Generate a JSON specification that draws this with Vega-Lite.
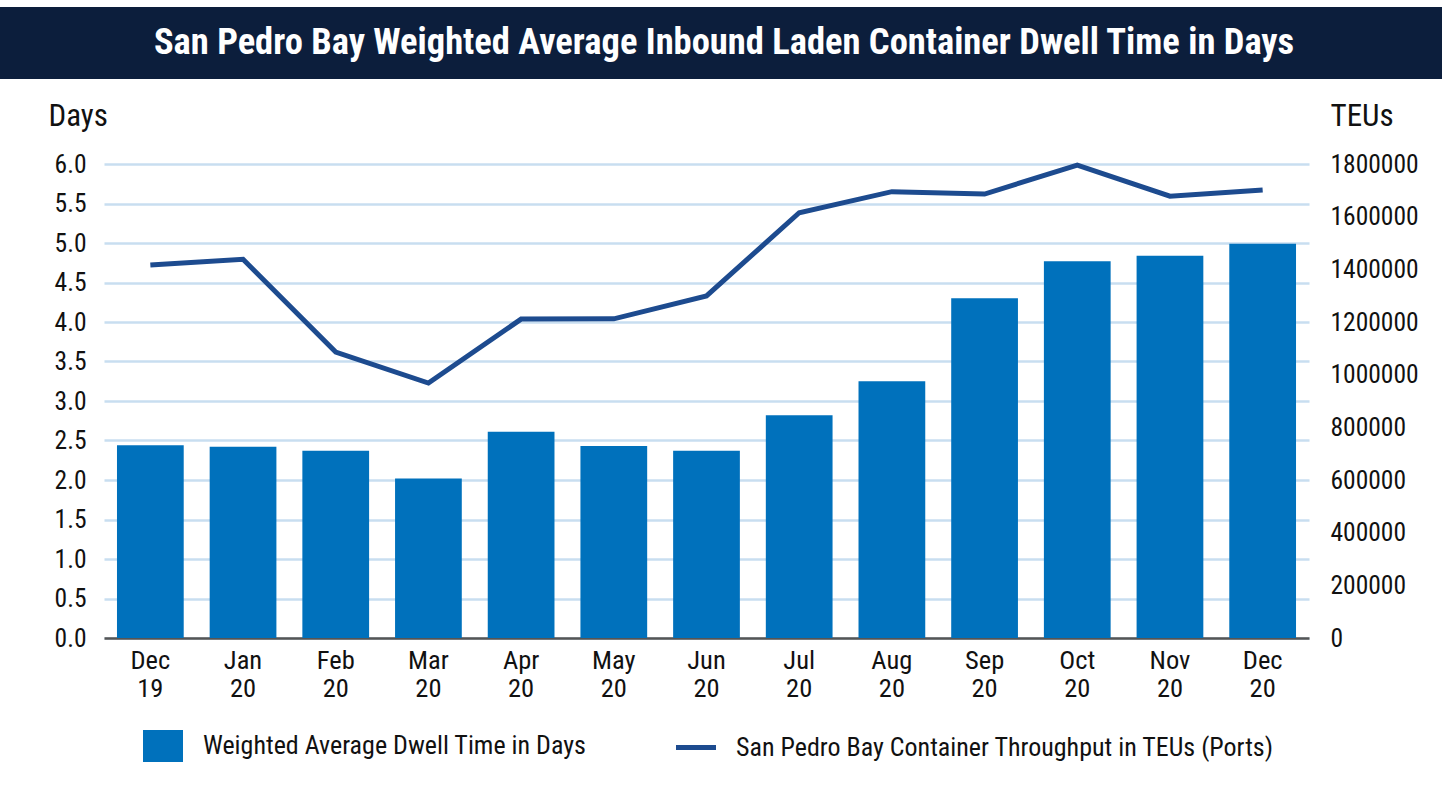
{
  "$schema": "https://vega.github.io/schema/vega-lite/v6.json",
  "background": "white",
  "padding": {"left": -29, "top": 7, "right": 0, "bottom": 0},
  "autosize": {"type": "pad"},
  "config": {
    "view": {"stroke": null},
    "font": "Roboto Condensed, Liberation Sans Narrow, Roboto",
    "axis": {"labelColor": "#111111", "titleColor": "#111111"},
    "legend": {"labelColor": "#111111"}
  },
  "datasets": {
    "banner": [{"t": "San Pedro Bay Weighted Average Inbound Laden Container Dwell Time in Days"}],
    "ports": [
      {"month": "Dec 19", "days": 2.44, "teus": 1416000},
      {"month": "Jan 20", "days": 2.42, "teus": 1438000},
      {"month": "Feb 20", "days": 2.37, "teus": 1086000},
      {"month": "Mar 20", "days": 2.02, "teus": 968000},
      {"month": "Apr 20", "days": 2.61, "teus": 1211000},
      {"month": "May 20", "days": 2.43, "teus": 1212000},
      {"month": "Jun 20", "days": 2.37, "teus": 1299000},
      {"month": "Jul 20", "days": 2.82, "teus": 1615000},
      {"month": "Aug 20", "days": 3.25, "teus": 1695000},
      {"month": "Sep 20", "days": 4.30, "teus": 1686000},
      {"month": "Oct 20", "days": 4.77, "teus": 1796000},
      {"month": "Nov 20", "days": 4.84, "teus": 1678000},
      {"month": "Dec 20", "days": 4.99, "teus": 1701000}
    ]
  },
  "spacing": 85,
  "center": true,
  "bounds": "flush",
  "vconcat": [
    {
      "width": 1471,
      "height": 72,
      "view": {"fill": "#0c1e3c", "stroke": null},
      "data": {"name": "banner"},
      "mark": {"type": "text", "color": "white", "fontSize": 36.5, "fontWeight": "bold", "baseline": "middle", "align": "center", "dx": 17.5},
      "encoding": {"text": {"field": "t"}}
    },
    {
      "width": 1205,
      "height": 474,
      "data": {"name": "ports"},
      "resolve": {"scale": {"y": "independent"}},
      "encoding": {
        "x": {
          "field": "month", "type": "ordinal", "sort": null,
          "scale": {"paddingInner": 0.28, "paddingOuter": 0.14},
          "axis": {
            "title": null, "labelAngle": 0, "labelExpr": "split(datum.label, ' ')",
            "labelFontSize": 26.5, "labelLineHeight": 28.5, "labelPadding": 9,
            "ticks": false, "domain": true, "domainColor": "#555555", "domainWidth": 2.5, "grid": false
          }
        }
      },
      "layer": [
        {
          "mark": {"type": "bar"},
          "encoding": {
            "y": {
              "field": "days", "type": "quantitative",
              "scale": {"domain": [0, 6]},
              "axis": {
                "title": "Days", "titleAngle": 0, "titleX": -56, "titleY": -39,
                "titleAlign": "left", "titleBaseline": "alphabetic", "titleFontSize": 31, "titleFontWeight": "normal",
                "values": [0, 0.5, 1, 1.5, 2, 2.5, 3, 3.5, 4, 4.5, 5, 5.5, 6],
                "format": ".1f", "labelFontSize": 25.5, "labelPadding": 18,
                "domain": false, "ticks": false, "grid": true, "gridColor": "#c8def0", "gridWidth": 2.5
              }
            },
            "color": {
              "datum": "Weighted Average Dwell Time in Days",
              "scale": {
                "domain": ["Weighted Average Dwell Time in Days", "San Pedro Bay Container Throughput in TEUs (Ports)"],
                "range": ["#0071bc", "#1d4b8f"]
              },
              "legend": {
                "orient": "none", "legendX": 179, "legendY": 726, "padding": 0,
                "direction": "horizontal", "title": null,
                "labelFontSize": 26, "labelLimit": 900, "labelOffset": 27, "columnPadding": 79,
                "symbolSize": 1600,
                "encode": {
                  "symbols": {
                    "update": {
                      "shape": {"signal": "datum.value === 'San Pedro Bay Container Throughput in TEUs (Ports)' ? 'M-1,0H1' : 'M-1,-0.8H1V0.8H-1Z'"},
                      "strokeWidth": {"signal": "datum.value === 'San Pedro Bay Container Throughput in TEUs (Ports)' ? 5 : 0"},
                      "fill": {"signal": "datum.value === 'San Pedro Bay Container Throughput in TEUs (Ports)' ? 'transparent' : '#0071bc'"},
                      "stroke": {"signal": "datum.value === 'San Pedro Bay Container Throughput in TEUs (Ports)' ? '#1d4b8f' : '#0071bc'"}
                    }
                  }
                }
              }
            }
          }
        },
        {
          "mark": {"type": "line", "strokeWidth": 5},
          "encoding": {
            "y": {
              "field": "teus", "type": "quantitative",
              "scale": {"domain": [0, 1800000]},
              "axis": {
                "orient": "right",
                "title": "TEUs", "titleAngle": 0, "titleX": 21, "titleY": -39,
                "titleAlign": "left", "titleBaseline": "alphabetic", "titleFontSize": 31, "titleFontWeight": "normal",
                "values": [0, 200000, 400000, 600000, 800000, 1000000, 1200000, 1400000, 1600000, 1800000],
                "format": "d", "labelFontSize": 25.5, "labelPadding": 21,
                "domain": false, "ticks": false, "grid": false
              }
            },
            "color": {"datum": "San Pedro Bay Container Throughput in TEUs (Ports)"}
          }
        }
      ]
    }
  ]
}
